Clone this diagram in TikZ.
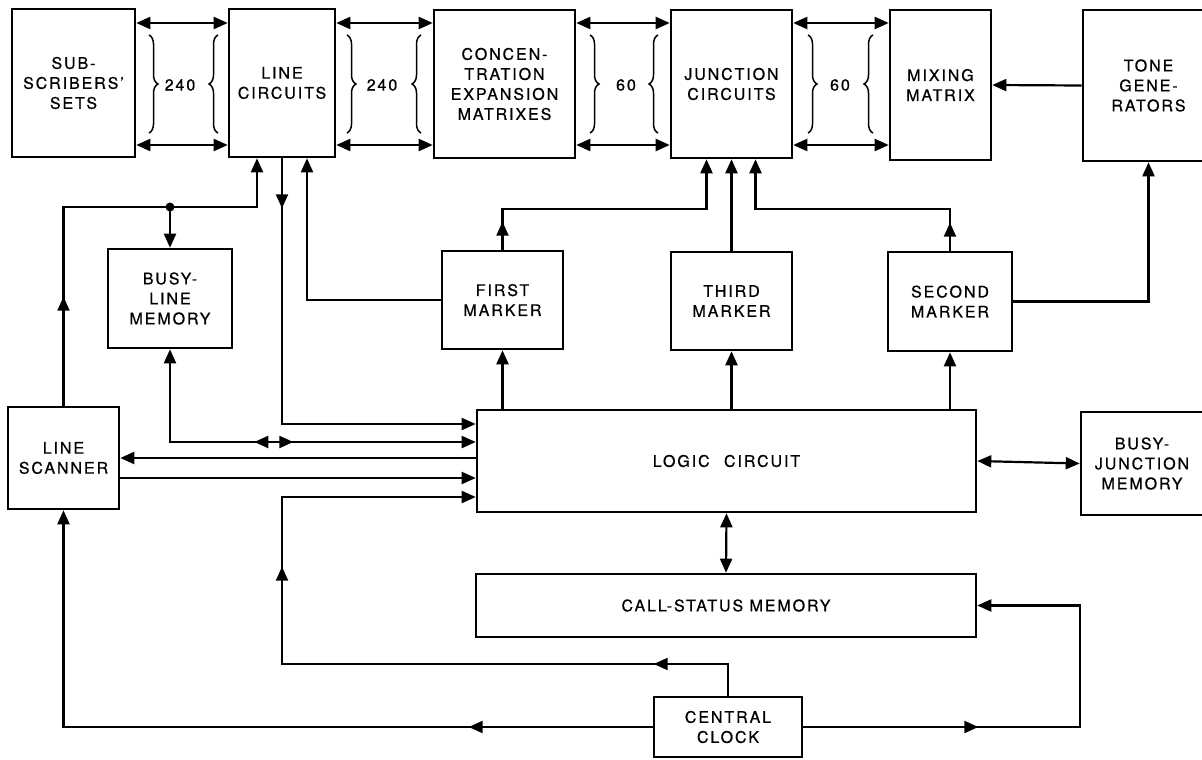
\documentclass[tikz,border=0pt]{standalone}
\usepackage{fontspec}
\setmainfont{TeX Gyre Heros}[LetterSpace=12,FakeBold=0.7]
\usepackage{tikz}
\usetikzlibrary{arrows.meta,decorations.pathreplacing,decorations.markings}

\begin{document}
\begin{tikzpicture}[x=1pt,y=-1pt,line width=2.2pt,
  >={Triangle[length=14pt,width=12pt]},
  blk/.style n args={2}{draw,line width=2.6pt,minimum width=#1pt,minimum height=#2pt,
    inner sep=0pt,align=center,font=\fontsize{16}{20}\selectfont},
  lbl/.style={font=\fontsize{16}{20}\selectfont},
  tipat/.style={decoration={markings,mark=at position #1 with {\arrow{>}}}},
  tipback/.style={decoration={markings,mark=at position #1 with {\arrowreversed{>}}}},
  bus/.style={line width=1.5pt,decorate,decoration={brace,amplitude=9pt}}]
  \useasboundingbox (0,0) rectangle (1202,760);

  \node[blk={123}{148}] (sub) at (73.5,83) {SUB-\\SCRIBERS'\\SETS};
  \node[blk={106}{148}] (lc) at (282,83) {LINE\\CIRCUITS};
  \node[blk={141}{148}] (conc) at (504.5,84) {CONCEN-\\TRATION\\EXPANSION\\MATRIXES};
  \node[blk={121}{148}] (jc) at (731.5,84) {JUNCTION\\CIRCUITS};
  \node[blk={101}{150}] (mix) at (940.5,85) {MIXING\\MATRIX};
  \node[blk={131}{151}] (tone) at (1148.5,85.5) {TONE\\GENE-\\RATORS};
  \node[blk={124}{99}] (bl) at (170,298.5) {BUSY-\\LINE\\MEMORY};
  \node[blk={121}{98}] (fm) at (502.5,300) {FIRST\\MARKER};
  \node[blk={121}{98}] (tm) at (731.5,301) {THIRD\\MARKER};
  \node[blk={124}{99}] (sm) at (950,301.5) {SECOND\\MARKER};
  \node[blk={111}{102}] (ls) at (63.5,458) {LINE\\SCANNER};
  \node[blk={499}{102}] (logic) at (726.5,461) {LOGIC\hspace{8pt} CIRCUIT};
  \node[blk={122}{103}] (bj) at (1142,463.5) {BUSY-\\JUNCTION\\MEMORY};
  \node[blk={500}{63}] (cs) at (726,605.5) {CALL-STATUS MEMORY};
  \node[blk={148}{60}] (clock) at (728,727) {CENTRAL\\CLOCK};

  \coordinate (lcA) at ([xshift=-25pt]lc.south);
  \coordinate (lcB) at ([xshift=25pt]lc.south);
  \coordinate (jcA) at ([xshift=-25pt]jc.south);
  \coordinate (jcB) at ([xshift=24pt]jc.south);
  \coordinate (dot) at (bl.north |- 0,207);

  \foreach \a/\b in {sub/lc,lc/conc,conc/jc,jc/mix} {
    \draw[<->] (\a.east |- 0,23) -- (\b.west |- 0,23);
    \draw[<->] (\a.east |- 0,145) -- (\b.west |- 0,145);
  }
  \foreach \xa/\xb/\xl/\n in {149/218/180/240,347/421/382/240,590/658/626/60,808/873/840/60} {
    \draw[bus] (\xa,35) -- (\xa,133);
    \draw[bus] (\xb,133) -- (\xb,35);
    \node[lbl] (w\xa) at (\xl,85) {\n};
  }
  \draw[->] (tone.west) -- (mix.east);

  \draw[->,postaction=decorate,tipat=109pt] (ls.north) |- (dot) -| (lcA);
  \fill (dot) circle (4.5pt);
  \draw[->] (dot) -- (bl.north);
  \draw[->,postaction=decorate,tipat=50pt] (lc.south) |- (logic.west |- 0,424);
  \draw[->] (fm.west) -| (lcB);
  \draw[<->,postaction=decorate,tipback=177pt,tipat=216pt] (bl.south) |- (logic.west |- 0,442);
  \draw[->] (logic.west |- ls.east) -- (ls.east);
  \draw[->] (ls.east |- 0,478) -- (logic.west |- 0,478);

  \foreach \m in {fm,tm,sm}
    \draw[->] (logic.north -| \m.south) -- (\m.south);
  \draw[->,postaction=decorate,tipat=28pt] (fm.north) |- (jcA |- 0,209) -- (jcA);
  \draw[->] (tm.north) -- (jc.south);
  \draw[->,postaction=decorate,tipat=28pt] (sm.north) |- (jcB |- 0,209) -- (jcB);
  \draw[->] (sm.east) -| (tone.south);

  \draw[<->] (logic.east) -- (bj.west);
  \draw[<->] (logic.south) -- (cs.north);
  \draw[->,postaction=decorate,tipat=106pt,tipat=575pt] (clock.north) |- (lc.south |- 0,664) |- (logic.west |- 0,497);
  \draw[->,postaction=decorate,tipat=184pt] (clock.west) -| (ls.south);
  \draw[->,postaction=decorate,tipat=175pt] (clock.east) -| (bj.west |- cs.east) -- (cs.east);
\end{tikzpicture}
\end{document}
